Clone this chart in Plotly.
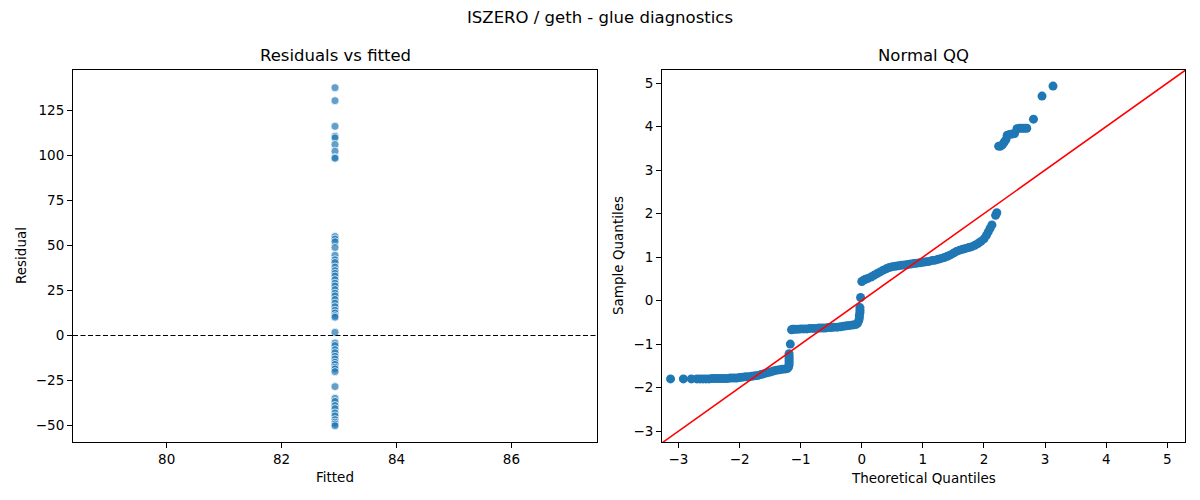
import plotly.graph_objects as go

# fitted value (single constant model) and residuals
fitted_value = 82.93
residuals = [137.4, 130.2, 116.0, 110.5, 109.6, 105.9, 102.2, 98.7, 98.3,
             54.9, 53.5, 52.0, 48.8, 44.5, 42.0, 40.5, 38.0, 36.0, 34.5, 33.0,
             31.0, 29.0, 27.5, 25.5, 23.5, 22.0, 20.0, 18.0, 16.0, 14.0, 12.5,
             11.0, 10.2, 1.8,
             -4.1, -5.5, -7.8, -9.5, -11.5, -13.0, -14.8, -16.0, -17.6, -18.5,
             -20.0, -28.3, -34.8, -36.5, -38.8, -40.5, -42.9, -44.5, -46.6,
             -48.0, -49.0, -50.0]

# QQ plot points
qq_theoretical = [
    -3.13, -2.92, -2.79, -2.70, -2.65, -2.60, -2.55, -2.50, -2.45, -2.40,
    -2.35, -2.30, -2.25, -2.20, -2.15, -2.10, -2.05, -2.00, -1.95, -1.90,
    -1.85, -1.80, -1.75, -1.70, -1.65, -1.60, -1.55, -1.50, -1.45, -1.40,
    -1.35, -1.30, -1.25, -1.22, -1.20, -1.19, -1.19, -1.19, -1.19, -1.19,
    -1.19, -1.17, -1.15,
    -1.13, -1.10, -1.05, -1.00, -0.95, -0.90, -0.85, -0.80, -0.75, -0.70,
    -0.65, -0.60, -0.55, -0.50, -0.45, -0.40, -0.35, -0.30, -0.25, -0.20,
    -0.15, -0.10, -0.07, -0.05, -0.04, -0.04, -0.03, -0.03, -0.03, -0.02,
    0.00, 0.03, 0.06, 0.10, 0.15, 0.20, 0.25, 0.30, 0.35, 0.40, 0.45,
    0.50, 0.55, 0.60, 0.65, 0.70, 0.75, 0.80, 0.85, 0.90, 0.95, 1.00,
    1.05, 1.10, 1.15, 1.20, 1.25, 1.30, 1.35, 1.40, 1.45, 1.50, 1.55,
    1.60, 1.65, 1.70, 1.75, 1.80, 1.85, 1.90, 1.95, 2.00, 2.04, 2.07,
    2.10, 2.13, 2.19, 2.21,
    2.24, 2.27, 2.30, 2.33, 2.36, 2.38, 2.42, 2.46, 2.50, 2.54, 2.58,
    2.62, 2.66, 2.70, 2.81, 2.95, 3.13]
qq_sample = [
    -1.80, -1.80, -1.80, -1.80, -1.80, -1.80, -1.80, -1.80, -1.79, -1.79,
    -1.79, -1.79, -1.79, -1.79, -1.78, -1.78, -1.78, -1.77, -1.76, -1.75,
    -1.75, -1.74, -1.73, -1.72, -1.70, -1.68, -1.66, -1.64, -1.62, -1.60,
    -1.59, -1.58, -1.57, -1.56, -1.53, -1.48, -1.43, -1.38, -1.33, -1.28,
    -1.22, -1.00, -0.67,
    -0.66, -0.66, -0.66, -0.65, -0.65, -0.65, -0.64, -0.64, -0.64, -0.63,
    -0.63, -0.63, -0.62, -0.62, -0.61, -0.61, -0.60, -0.59, -0.58, -0.57,
    -0.56, -0.55, -0.52, -0.46, -0.40, -0.34, -0.28, -0.22, -0.16, 0.07,
    0.44, 0.47, 0.49, 0.51, 0.54, 0.58, 0.62, 0.66, 0.70, 0.73, 0.76,
    0.78, 0.79, 0.80, 0.81, 0.82, 0.83, 0.84, 0.85, 0.86, 0.87, 0.88,
    0.89, 0.90, 0.92, 0.93, 0.95, 0.97, 0.99, 1.02, 1.05, 1.09, 1.13,
    1.16, 1.18, 1.20, 1.22, 1.24, 1.27, 1.31, 1.36, 1.42, 1.50, 1.58,
    1.66, 1.74, 1.96, 2.02,
    3.55, 3.55, 3.58, 3.64, 3.70, 3.80, 3.82, 3.83, 3.84, 3.95, 3.96,
    3.96, 3.96, 3.96, 4.17, 4.70, 4.93]

ref_line = [-3.4, 5.4]

blue = "#1f77b4"
font = "DejaVu Sans"

# the page adds an 8px body margin, so the figure is laid out 8px smaller
W, H, OFF = 1192, 492, 8


def px_x(v):
    return (v - OFF) / W


def px_y(v):
    return 1 - (v - OFF) / H


fig = go.Figure()

fig.add_trace(go.Scatter(
    x=[fitted_value] * len(residuals), y=residuals, mode="markers",
    marker=dict(size=8, color="rgba(31,119,180,0.7)",
                line=dict(color="white", width=0.7)),
    xaxis="x", yaxis="y", showlegend=False))

fig.add_trace(go.Scatter(
    x=qq_theoretical, y=qq_sample, mode="markers",
    marker=dict(size=9, color=blue),
    xaxis="x2", yaxis="y2", showlegend=False))

fig.add_trace(go.Scatter(
    x=ref_line, y=ref_line, mode="lines",
    line=dict(color="red", width=1.6),
    xaxis="x2", yaxis="y2", showlegend=False))

axis_style = dict(showline=True, linecolor="black", linewidth=1, mirror=True,
                  ticks="outside", ticklen=5, tickwidth=1, tickcolor="black",
                  showgrid=False, zeroline=False, automargin=False,
                  tickfont=dict(family=font, size=13.5, color="black"))

fig.update_layout(
    width=W, height=H,
    margin=dict(l=0, r=0, t=0, b=0),
    paper_bgcolor="white", plot_bgcolor="white",
    font=dict(family=font, color="black"),
    xaxis=dict(domain=[px_x(73), px_x(597)], range=[78.37, 87.49],
               tickvals=[80, 82, 84, 86], anchor="y", **axis_style),
    yaxis=dict(domain=[px_y(442), px_y(70)], range=[-59.0, 147.2],
               tickvals=[-50, -25, 0, 25, 50, 75, 100, 125], anchor="x",
               **axis_style),
    xaxis2=dict(domain=[px_x(662), px_x(1185)], range=[-3.27, 5.29],
                tickvals=[-3, -2, -1, 0, 1, 2, 3, 4, 5], anchor="y2",
                **axis_style),
    yaxis2=dict(domain=[px_y(442), px_y(70)], range=[-3.25, 5.30],
                tickvals=[-3, -2, -1, 0, 1, 2, 3, 4, 5], anchor="x2",
                **axis_style),
    shapes=[dict(type="line", xref="x domain", yref="y", x0=0, x1=1, y0=0, y1=0,
                 line=dict(color="black", width=1.1, dash="5px,2.5px"))],
)

title_font = dict(family=font, size=16.5, color="black")
label_font = dict(family=font, size=13.5, color="black")
annotations = [
    dict(text="ISZERO / geth - glue diagnostics", x=px_x(600), y=px_y(18),
         font=title_font),
    dict(text="Residuals vs fitted", x=px_x(335), y=px_y(56), font=title_font),
    dict(text="Normal QQ", x=px_x(923), y=px_y(56), font=title_font),
    dict(text="Fitted", x=px_x(335), y=px_y(477), font=label_font),
    dict(text="Theoretical Quantiles", x=px_x(923), y=px_y(478), font=label_font),
    dict(text="Residual", x=px_x(21), y=px_y(256), font=label_font, textangle=-90),
    dict(text="Sample Quantiles", x=px_x(618), y=px_y(256), font=label_font,
         textangle=-90),
]
for a in annotations:
    fig.add_annotation(xref="paper", yref="paper", showarrow=False,
                       xanchor="center", yanchor="middle", **a)

fig.write_html("out.html")
